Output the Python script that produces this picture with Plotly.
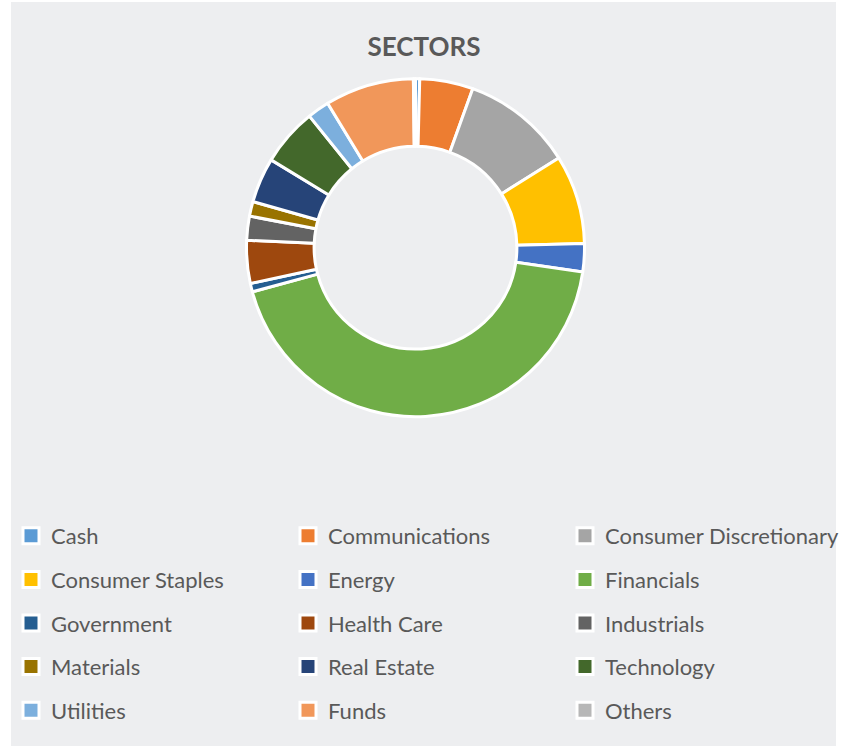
import plotly.graph_objects as go

# ---- data ----
sectors = ["Cash", "Communications", "Consumer Discretionary", "Consumer Staples",
           "Energy", "Financials", "Government", "Health Care", "Industrials",
           "Materials", "Real Estate", "Technology", "Utilities", "Funds", "Others"]
weights = [0.4, 5.1, 10.6, 8.5, 2.7, 43.5, 0.8, 4.1, 2.3, 1.4, 4.3, 5.5, 2.1, 8.5, 0.2]
colors = ["#5B9BD5", "#ED7D31", "#A5A5A5", "#FFC000", "#4472C4", "#70AD47",
          "#255E91", "#9E480E", "#636363", "#997300", "#264478", "#43682B",
          "#7CAFDD", "#F1975A", "#B7B7B7"]
title_text = "SECTORS"

W, H = 842, 746
TEXT = "#595959"
BG = "#EDEEF0"
FONT = "Lato"

fig = go.Figure()

cx, cy, r = 415.5, 247.7, 169.0
fig.add_trace(go.Pie(
    labels=sectors, values=weights, sort=False, direction="clockwise", rotation=0,
    hole=0.6, textinfo="none", showlegend=False,
    marker=dict(colors=colors, line=dict(color="white", width=3)),
    domain=dict(x=[(cx - r) / W, (cx + r) / W], y=[1 - (cy + r) / H, 1 - (cy - r) / H]),
))

# legend entries (one per sector, same colours as the slices)
for name, col in zip(sectors, colors):
    fig.add_trace(go.Scatter(
        x=[None], y=[None], mode="markers", name=name, legendgroup=name,
        marker=dict(symbol="square", size=16, color=col, line=dict(color="white", width=3)),
        hoverinfo="skip",
    ))

fig.update_layout(
    width=W, height=H, autosize=False,
    margin=dict(l=0, r=0, t=0, b=0),
    paper_bgcolor="white", plot_bgcolor="rgba(0,0,0,0)",
    font=dict(family=FONT, color=TEXT),
    title=dict(text=f"<b>{title_text}</b>", x=424 / W, xanchor="center",
               y=1 - 47 / H, yanchor="middle",
               font=dict(family=FONT, size=26, color=TEXT)),
    xaxis=dict(visible=False), yaxis=dict(visible=False),
    legend=dict(orientation="h", x=14 / W, xanchor="left", y=1 - 515 / H, yanchor="top",
                font=dict(family=FONT, size=22, color=TEXT),
                entrywidth=232, entrywidthmode="pixels", tracegroupgap=12,
                bgcolor="rgba(0,0,0,0)", traceorder="grouped"),
    shapes=[dict(type="rect", xref="paper", yref="paper", layer="below",
                 x0=11 / W, x1=836 / W, y0=0, y1=1 - 2 / H,
                 fillcolor=BG, line=dict(width=0))],
)

fig.write_html("out.html", config={"displayModeBar": False},
               post_script="document.body.style.margin='0';")
